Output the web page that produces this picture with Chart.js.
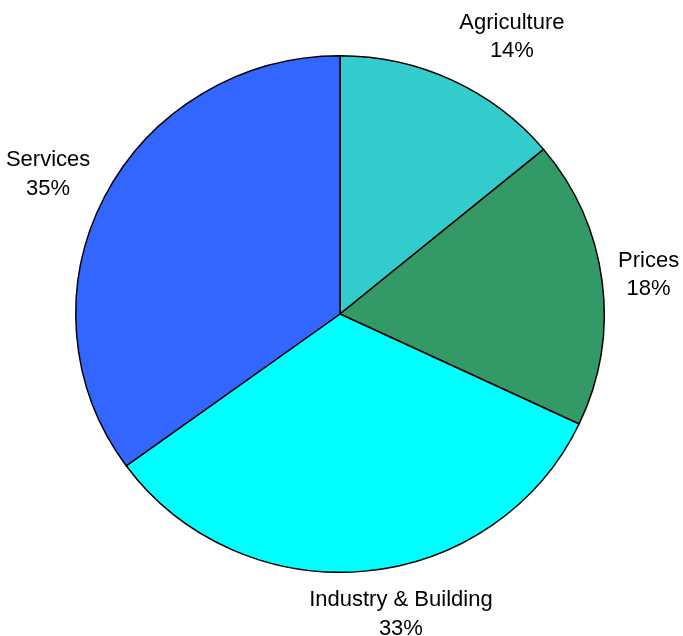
<!DOCTYPE html>
<html>
<head>
<meta charset="utf-8">
<script src="https://cdn.jsdelivr.net/npm/chart.js@4"></script>
<style>
html,body{margin:0;padding:0;background:#fff;}
canvas{display:block;}
</style>
</head>
<body>
<canvas id="c" width="683" height="636"></canvas>
<script>
const categories = ["Agriculture", "Prices", "Industry & Building", "Services"];
const shares = [14, 18, 33, 35];
const sliceColors = ["#33CCCC", "#339966", "#00FFFF", "#3366FF"];

const ovalPlugin = {
  id: 'oval',
  beforeDatasetsDraw(chart) {
    const ctx = chart.ctx;
    const a = chart.getDatasetMeta(0).data[0];
    ctx.save();
    ctx.translate(a.x, a.y);
    ctx.scale(1, 259 / 265);
    ctx.translate(-a.x, -a.y);
  },
  afterDatasetsDraw(chart) {
    chart.ctx.restore();
  }
};

const labelPlugin = {
  id: 'outLabels',
  afterDraw(chart) {
    const ctx = chart.ctx;
    const meta = chart.getDatasetMeta(0);
    const sy = 259 / 265;
    const d = 16;
    const gap = 28.5;
    ctx.save();
    ctx.font = '22px "Liberation Sans", Arial, sans-serif';
    ctx.fillStyle = '#000';
    ctx.textAlign = 'center';
    ctx.textBaseline = 'alphabetic';
    const clamp = v => Math.max(-1, Math.min(1, v));
    meta.data.forEach((arc, i) => {
      const mid = (arc.startAngle + arc.endAngle) / 2;
      const ux = Math.cos(mid), uy = Math.sin(mid);
      const r = arc.outerRadius;
      const px = arc.x + ux * (r + d);
      const py = arc.y + uy * (r * sy + d);
      const l1 = categories[i];
      const l2 = shares[i] + '%';
      const w = Math.max(ctx.measureText(l1).width, ctx.measureText(l2).width);
      const h = 56;
      const bx = px + clamp(ux * 4) * w / 2;
      const by = py + clamp(uy * 1.15) * h / 2 - 2.5;
      ctx.fillText(l1, bx, by - gap / 2 + 7.9);
      ctx.fillText(l2, bx, by + gap / 2 + 7.9);
    });
    ctx.restore();
  }
};

new Chart(document.getElementById('c'), {
  type: 'pie',
  data: {
    labels: categories,
    datasets: [{
      data: shares,
      backgroundColor: sliceColors,
      borderColor: '#000000',
      borderWidth: 1.5
    }]
  },
  options: {
    responsive: false,
    animation: false,
    layout: { padding: { left: 75, right: 78, top: 49, bottom: 57 } },
    plugins: {
      legend: { display: false },
      tooltip: { enabled: false }
    }
  },
  plugins: [ovalPlugin, labelPlugin]
});
</script>
</body>
</html>
